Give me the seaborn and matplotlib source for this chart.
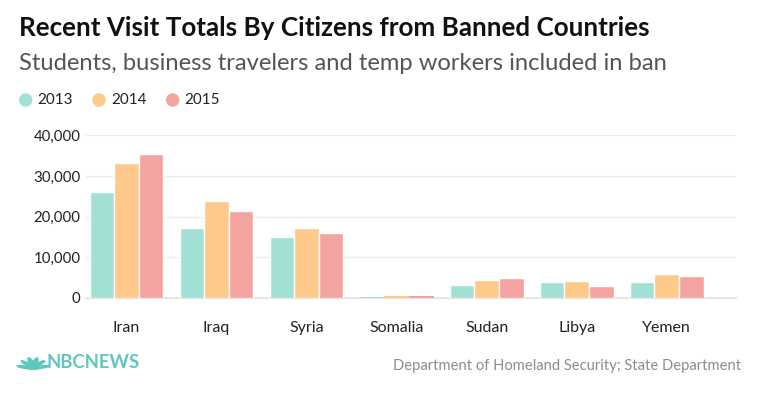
import matplotlib
matplotlib.use("Agg")
import matplotlib.pyplot as plt
import seaborn as sns
import pandas as pd
import numpy as np
from matplotlib.patches import Ellipse

countries = ["Iran", "Iraq", "Syria", "Somalia", "Sudan", "Libya", "Yemen"]
years = ["2013", "2014", "2015"]
v2013 = [26100, 17100, 14950, 260, 3130, 3940, 3870]
v2014 = [33250, 23800, 17150, 360, 4430, 4040, 5840]
v2015 = [35300, 21350, 15930, 430, 4780, 2800, 5420]
yticks = [0, 10000, 20000, 30000, 40000]
ytick_labels = ["0", "10,000", "20,000", "30,000", "40,000"]
colors = ["#a2dfd4", "#fec98a", "#f4a4a0"]

df = pd.DataFrame({
    "country": countries * 3,
    "year": [y for y in years for _ in countries],
    "value": v2013 + v2014 + v2015,
})

sns.set_style("white")
plt.rcParams["font.family"] = ["Lato", "DejaVu Sans"]

fig = plt.figure(figsize=(7.6, 3.99), dpi=100)
ax = fig.add_axes([86 / 760, 101.3 / 399, 650 / 760, 162.4 / 399])

sns.barplot(data=df, x="country", y="value", hue="year", palette=colors,
            width=0.82, edgecolor="white", linewidth=1.0, ax=ax, legend=False,
            saturation=1, errorbar=None)
for p in ax.patches:
    if p.get_height() < 1500:
        p.set_linewidth(0)
        p.set_zorder(3)

ax.set_xlim(-0.45, 6.77)
ax.set_ylim(0, 40000)
ax.set_yticks(yticks)
ax.set_yticklabels(ytick_labels, fontsize=10.8, color="#222222")
ax.set_xlabel("")
ax.set_ylabel("")
ax.grid(axis="y", color="#ececec", linewidth=1)
ax.set_axisbelow(True)
for s in ["top", "right", "left"]:
    ax.spines[s].set_visible(False)
ax.spines["bottom"].set_color("#e6e6e6")
ax.spines["bottom"].set_linewidth(1.5)
ax.spines["bottom"].set_zorder(0.6)
ax.tick_params(axis="y", length=0, pad=4)
ax.tick_params(axis="x", length=11, width=1, color="#e6e6e6", pad=6,
               labelsize=11.5, labelcolor="#222222")

# Title & subtitle
fig.text(19 / 760, 1 - 28.5 / 399, "Recent Visit Totals By Citizens from Banned Countries",
         fontsize=18.7, fontweight="bold", color="#111111", va="center", ha="left")
fig.text(19 / 760, 1 - 64 / 399, "Students, business travelers and temp workers included in ban",
         fontsize=17.1, color="#555555", va="center", ha="left")

# Legend
leg_x = [25.7, 99, 172.7]
for xc, yr, c in zip(leg_x, years, colors):
    fig.patches.append(Ellipse((xc / 760, 1 - 100 / 399), 12 / 760, 12 / 399,
                               transform=fig.transFigure, color=c))
    fig.text((xc + 12) / 760, 1 - 100 / 399, yr, fontsize=11, color="#222222",
             va="center", ha="left")

# Footer
fig.text(741 / 760, 1 - 366 / 399, "Department of Homeland Security; State Department",
         fontsize=10.6, color="#8c8c8c", va="center", ha="right")

logo_col = "#5ec8bf"
bx, by = 33, 369
for ang in np.linspace(15, 165, 6):
    r = 6
    ex = bx + r * np.cos(np.radians(ang))
    ey = by - r * np.sin(np.radians(ang))
    fig.patches.append(Ellipse((ex / 760, 1 - ey / 399), 4.5 / 760, 11 / 399,
                               angle=ang - 90, transform=fig.transFigure, color=logo_col))
fig.text(47 / 760, 1 - 363 / 399, "NBCNEWS", fontsize=13.3, fontweight="bold",
         color=logo_col, va="center", ha="left")

fig.savefig("out.png", dpi=100, facecolor="white")
